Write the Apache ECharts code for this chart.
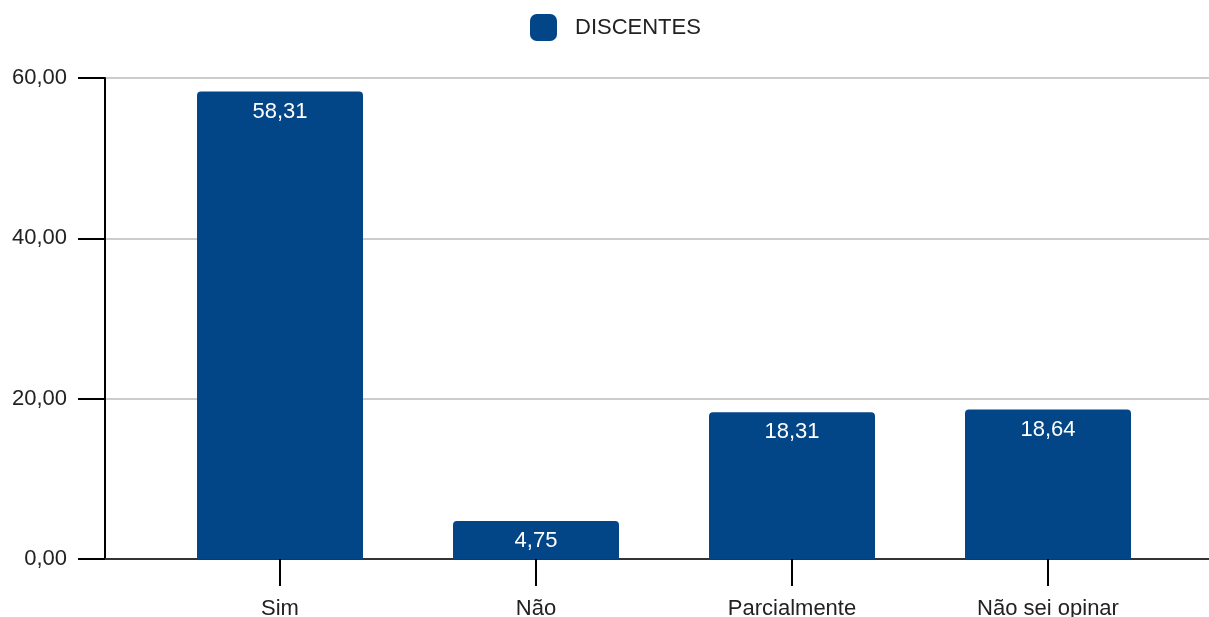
<!DOCTYPE html>
<html>
<head>
<meta charset="utf-8">
<script src="https://cdn.jsdelivr.net/npm/echarts@6/dist/echarts.min.js"></script>
<style>
  html, body { margin: 0; padding: 0; background: #fff; }
  #chart { width: 1209px; height: 617px; }
</style>
</head>
<body>
<div id="chart"></div>
<script>
const categories = ["Sim", "Não", "Parcialmente", "Não sei opinar"];
const discentes = [58.31, 4.75, 18.31, 18.64];
const seriesName = "DISCENTES";

const FONT = "'Liberation Sans', Arial, sans-serif";
const BAR_COLOR = "#034687";
const fmt = (v) => Number(v).toFixed(2).replace(".", ",");

const chart = echarts.init(document.getElementById("chart"), null, { renderer: "canvas" });

chart.setOption({
  animation: false,
  backgroundColor: "#fff",
  textStyle: { fontFamily: FONT },
  legend: {
    top: 9,
    left: 525,
    icon: "roundRect",
    itemWidth: 27,
    itemHeight: 27,
    textStyle: { fontSize: 22, color: "#222", fontFamily: FONT, padding: [2, 0, 0, 13] },
    data: [seriesName]
  },
  grid: [
    { left: 152, right: 33, top: 78, bottom: 58, containLabel: false, outerBoundsMode: "none" },
    { left: 105, right: 0, top: 78, bottom: 58, containLabel: false, outerBoundsMode: "none" }
  ],
  xAxis: [
    {
      type: "category",
      gridIndex: 0,
      data: categories,
      axisLine: { show: false },
      axisTick: { show: true, alignWithLabel: true, length: 27, lineStyle: { color: "#000", width: 2 } },
      axisLabel: { margin: 39, fontSize: 22, color: "#222", fontFamily: FONT }
    },
    {
      type: "value",
      gridIndex: 1,
      min: 0,
      max: 1,
      axisLine: { show: true, lineStyle: { color: "#333", width: 2 } },
      axisTick: { show: false },
      axisLabel: { show: false },
      splitLine: { show: false }
    }
  ],
  yAxis: [
    {
      type: "value",
      gridIndex: 0,
      min: 0,
      max: 60,
      interval: 20,
      show: false,
      splitLine: { show: false }
    },
    {
      type: "value",
      gridIndex: 1,
      min: 0,
      max: 60,
      interval: 20,
      axisLine: { show: true, lineStyle: { color: "#000", width: 2 } },
      axisTick: { show: true, length: 27, lineStyle: { color: "#000", width: 2 } },
      axisLabel: { margin: 38, fontSize: 22, color: "#222", fontFamily: FONT, formatter: fmt },
      splitLine: { show: true, lineStyle: { color: "#cccccc", width: 2 } }
    }
  ],
  series: [
    {
      name: seriesName,
      type: "bar",
      xAxisIndex: 0,
      yAxisIndex: 0,
      data: discentes,
      barWidth: 166,
      itemStyle: { color: BAR_COLOR, borderRadius: [4, 4, 0, 0] },
      label: {
        show: true,
        position: "insideTop",
        distance: 9,
        color: "#fff",
        fontSize: 22,
        fontFamily: FONT,
        formatter: (p) => fmt(p.value)
      }
    }
  ]
});
</script>
</body>
</html>
